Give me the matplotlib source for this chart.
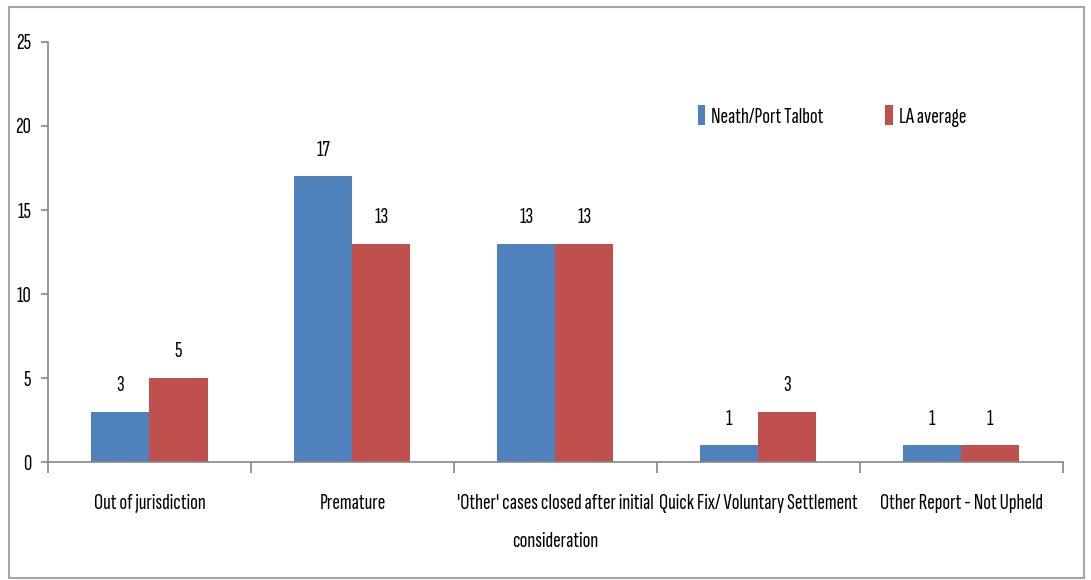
import matplotlib.pyplot as plt
import numpy as np
from matplotlib.patches import Rectangle

# ------------------------------------------------------------
# Data
# ------------------------------------------------------------

CATEGORIES = [
    "Out of jurisdiction",
    "Premature",
    "'Other' cases closed after initial\nconsideration",
    "Quick Fix/ Voluntary Settlement",
    "Other Report - Not Upheld",
]
NEATH = [3, 17, 13, 1, 1]
LA_AVG = [5, 13, 13, 3, 1]
SERIES_NAMES = ["Neath/Port Talbot", "LA average"]
Y_TICKS = [0, 5, 10, 15, 20, 25]

BLUE = "#4F81BD"
RED = "#C0504D"
AXIS_GREY = "#868686"

# Excel-style narrow Calibri look
plt.rcParams["font.family"] = ["Sofia Sans Extra Condensed", "DejaVu Sans"]
plt.rcParams["font.stretch"] = "condensed"
plt.rcParams["font.size"] = 16.5

# ------------------------------------------------------------
# Draw
# ------------------------------------------------------------

fig = plt.figure(figsize=(10.91, 5.8), dpi=100)
ax = fig.add_axes([0.044, 0.2034, 0.930, 0.7242])

x = np.arange(len(CATEGORIES))
w = 0.286

b1 = ax.bar(x - w / 2, NEATH, width=w, color=BLUE, label=SERIES_NAMES[0])
b2 = ax.bar(x + w / 2, LA_AVG, width=w, color=RED, label=SERIES_NAMES[1])

for bars in (b1, b2):
    for rect in bars:
        h = rect.get_height()
        ax.annotate(
            f"{h:g}",
            (rect.get_x() + rect.get_width() / 2, h),
            xytext=(0, 12),
            textcoords="offset points",
            ha="center",
            va="bottom",
        )

ax.set_xlim(-0.5, len(CATEGORIES) - 0.5)
ax.set_ylim(0, 25)
ax.set_yticks(Y_TICKS)

ax.set_xticks(x)
ax.set_xticklabels(CATEGORIES, linespacing=2.3)
ax.set_xticks(np.arange(len(CATEGORIES) + 1) - 0.5, minor=True)
ax.tick_params(axis="x", which="major", length=0, pad=23)
ax.tick_params(axis="x", which="minor", length=8, width=1.2, color=AXIS_GREY)
ax.tick_params(axis="y", length=5, width=1.2, color=AXIS_GREY, pad=7)

for side in ("top", "right"):
    ax.spines[side].set_visible(False)
for side in ("left", "bottom"):
    ax.spines[side].set_color(AXIS_GREY)
    ax.spines[side].set_linewidth(1.2)

ax.legend(
    loc="center left",
    bbox_to_anchor=(0.621, 0.80),
    bbox_transform=fig.transFigure,
    ncol=2,
    frameon=False,
    handlelength=0.32,
    handleheight=0.95,
    handletextpad=0.25,
    columnspacing=2.7,
)

# Chart frame
fig.patches.append(
    Rectangle(
        (0.008, 0.003), 0.986, 0.985,
        transform=fig.transFigure,
        fill=False,
        edgecolor="#A6A6A6",
        linewidth=1.5,
    )
)

fig.savefig("out.png", dpi=100)
plt.close(fig)
